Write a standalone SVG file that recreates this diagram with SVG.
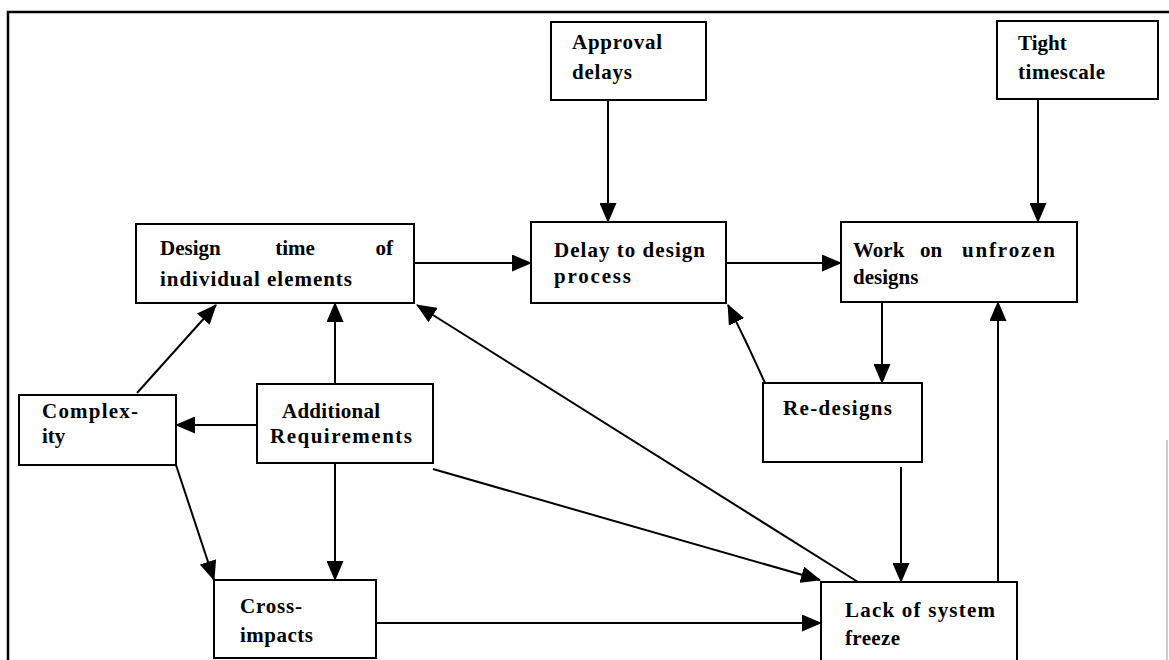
<svg xmlns="http://www.w3.org/2000/svg" width="1169" height="660" viewBox="0 0 1169 660">
  <style>
    .box { fill: #ffffff; stroke: #000000; stroke-width: 2; }
    .lbl { font-family: "Liberation Serif", "Times New Roman", serif; font-size: 21px; font-weight: bold; fill: #000000; }
    .end { text-anchor: end; }
    .mid { text-anchor: middle; }
    .edge { fill: none; stroke: #000000; stroke-width: 2; marker-end: url(#arrow); }
    .frame { fill: none; stroke: #000000; stroke-width: 2.5; }
  </style>
  <defs>
    <marker id="arrow" markerUnits="userSpaceOnUse" markerWidth="20" markerHeight="17" refX="19" refY="8.5" orient="auto">
      <path d="M0,0 L20,8.5 L0,17 Z" fill="#000000"/>
    </marker>
  </defs>

  <rect width="1169" height="660" fill="#ffffff"/>

  <!-- page frame -->
  <g id="frame">
    <path class="frame" d="M8,660 V12 H1169"/>
    <line x1="1167" y1="440" x2="1167" y2="660" stroke="#999999" stroke-width="1"/>
  </g>

  <!-- connectors -->
  <g id="connectors">
    <line class="edge" x1="414" y1="263" x2="531" y2="263"/>
    <line class="edge" x1="726" y1="263" x2="841" y2="263"/>
    <line class="edge" x1="608" y1="100" x2="608" y2="222"/>
    <line class="edge" x1="1038" y1="99" x2="1038" y2="222"/>
    <line class="edge" x1="882" y1="302" x2="882" y2="383"/>
    <line class="edge" x1="998" y1="582" x2="998" y2="302"/>
    <line class="edge" x1="901" y1="467" x2="901" y2="582"/>
    <path class="edge" d="M765,383 Q748,345 728,305"/>
    <line class="edge" x1="858" y1="582" x2="417" y2="305"/>
    <line class="edge" x1="433" y1="469" x2="820" y2="580"/>
    <line class="edge" x1="376" y1="623" x2="821" y2="623"/>
    <line class="edge" x1="257" y1="425" x2="176" y2="425"/>
    <line class="edge" x1="335" y1="463" x2="335" y2="580"/>
    <line class="edge" x1="335" y1="384" x2="335" y2="303"/>
    <line class="edge" x1="137" y1="393" x2="216" y2="305"/>
    <line class="edge" x1="176" y1="465" x2="214" y2="580"/>
  </g>

  <!-- nodes -->
  <g id="design-time">
    <rect class="box" x="136" y="224" width="278" height="79"/>
    <text class="lbl" x="160" y="255">Design</text>
    <text class="lbl mid" x="295" y="255">time</text>
    <text class="lbl end" x="393" y="255">of</text>
    <text class="lbl" x="160" y="286" textLength="192" lengthAdjust="spacing">individual elements</text>
  </g>

  <g id="approval-delays">
    <rect class="box" x="551" y="22" width="155" height="78"/>
    <text class="lbl" x="572" y="49" textLength="90" lengthAdjust="spacing">Approval</text>
    <text class="lbl" x="572" y="79" textLength="60" lengthAdjust="spacing">delays</text>
  </g>

  <g id="delay-design">
    <rect class="box" x="531" y="222" width="195" height="81"/>
    <text class="lbl" x="554" y="257" textLength="151" lengthAdjust="spacing">Delay to design</text>
    <text class="lbl" x="554" y="283" textLength="77" lengthAdjust="spacing">process</text>
  </g>

  <g id="tight-timescale">
    <rect class="box" x="997" y="21" width="161" height="78"/>
    <text class="lbl" x="1018" y="50">Tight</text>
    <text class="lbl" x="1018" y="79" textLength="87" lengthAdjust="spacing">timescale</text>
  </g>

  <g id="work-unfrozen">
    <rect class="box" x="841" y="222" width="236" height="80"/>
    <text class="lbl" x="853" y="257">Work</text>
    <text class="lbl" x="920" y="257">on</text>
    <text class="lbl" x="962" y="257" textLength="93" lengthAdjust="spacing">unfrozen</text>
    <text class="lbl" x="853" y="284">designs</text>
  </g>

  <g id="complexity">
    <rect class="box" x="19" y="395" width="157" height="70"/>
    <text class="lbl" x="42" y="418" textLength="96" lengthAdjust="spacing">Complex-</text>
    <text class="lbl" x="42" y="443">ity</text>
  </g>

  <g id="additional-requirements">
    <rect class="box" x="257" y="384" width="176" height="79"/>
    <text class="lbl" x="282" y="418" textLength="98" lengthAdjust="spacing">Additional</text>
    <text class="lbl" x="270" y="443" textLength="142" lengthAdjust="spacing">Requirements</text>
  </g>

  <g id="cross-impacts">
    <rect class="box" x="214" y="580" width="162" height="78"/>
    <text class="lbl" x="240" y="613" textLength="62" lengthAdjust="spacing">Cross-</text>
    <text class="lbl" x="240" y="642" textLength="73" lengthAdjust="spacing">impacts</text>
  </g>

  <g id="re-designs">
    <rect class="box" x="763" y="383" width="159" height="79"/>
    <text class="lbl" x="783" y="415" textLength="109" lengthAdjust="spacing">Re-designs</text>
  </g>

  <g id="lack-freeze">
    <rect class="box" x="821" y="582" width="196" height="82"/>
    <text class="lbl" x="845" y="617" textLength="150" lengthAdjust="spacing">Lack of system</text>
    <text class="lbl" x="845" y="645" textLength="55" lengthAdjust="spacing">freeze</text>
  </g>
</svg>
